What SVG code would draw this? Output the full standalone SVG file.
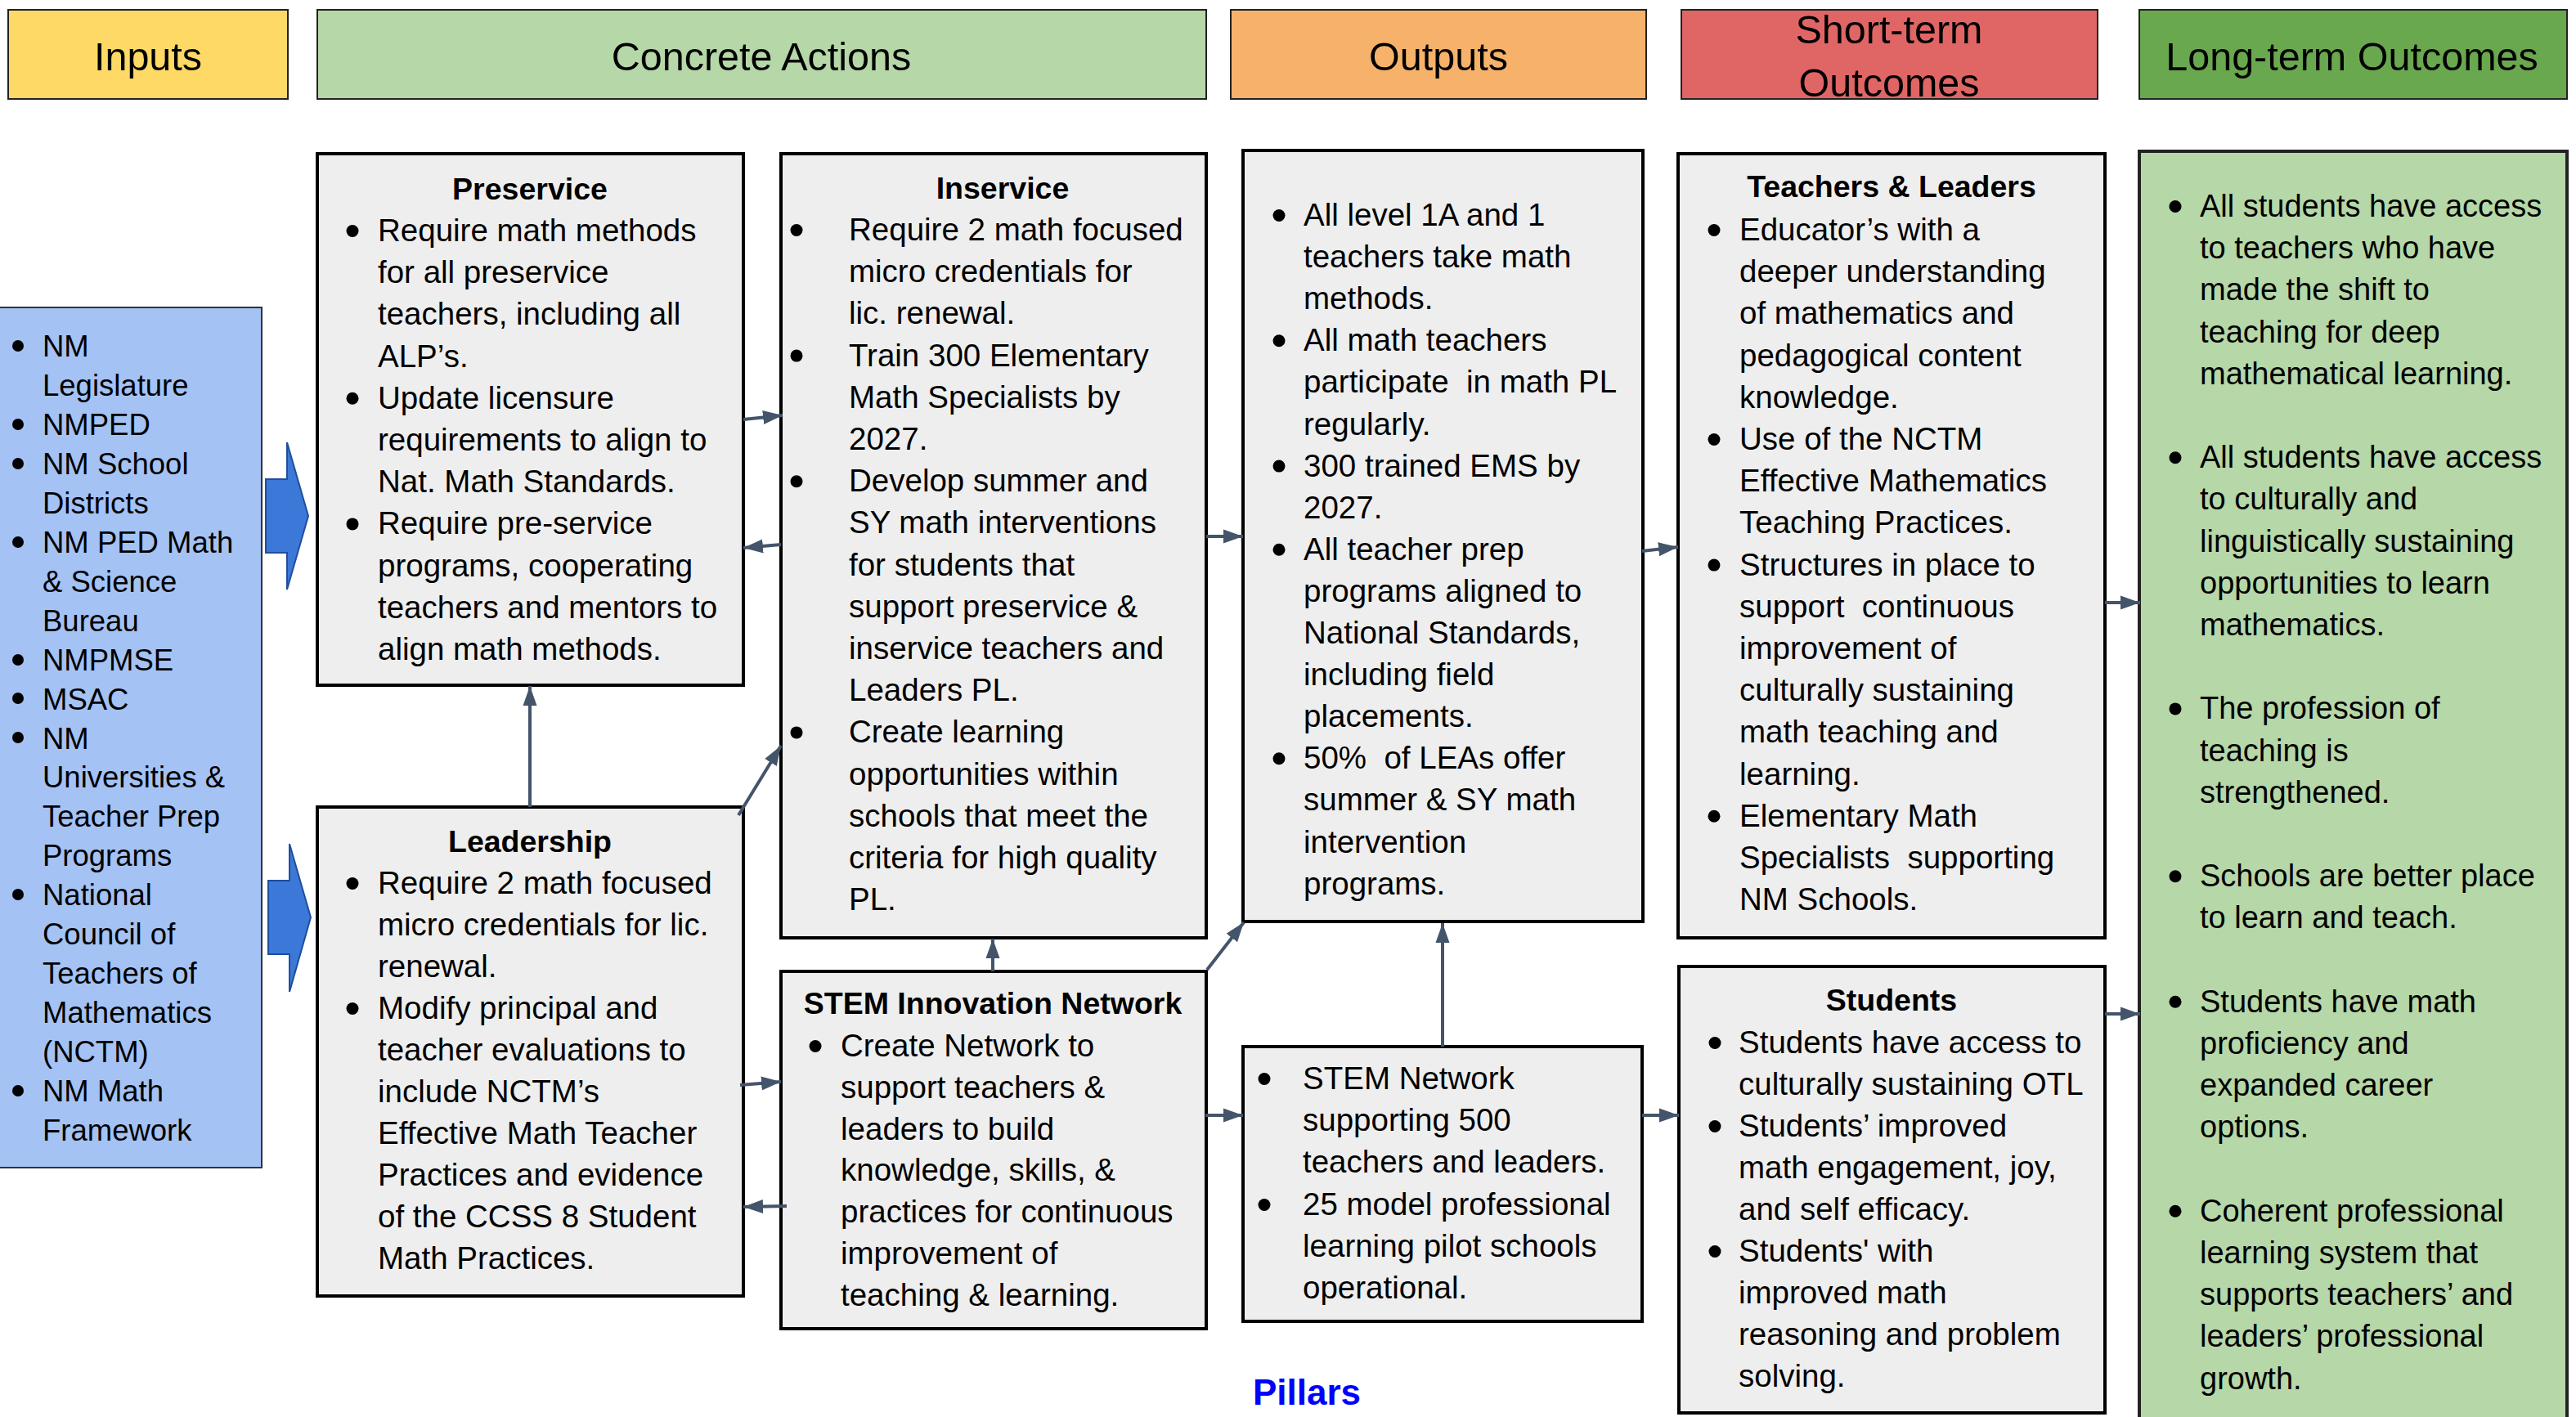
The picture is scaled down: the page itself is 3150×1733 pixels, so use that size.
<svg xmlns="http://www.w3.org/2000/svg" width="3150" height="1733" viewBox="0 0 3150 1733">
<style>
.hb{stroke:#222;stroke-width:2}
.ht{font-family:"Liberation Sans",Arial,sans-serif;font-size:48.5px;fill:#000;text-anchor:middle}
.box{fill:#EEEEEE;stroke:#000;stroke-width:4}
.t{font-family:"Liberation Sans",Arial,sans-serif;font-size:38.5px;fill:#000;white-space:pre}
.ti{font-family:"Liberation Sans",Arial,sans-serif;font-size:36.5px;fill:#000;white-space:pre}
.tl{font-family:"Liberation Sans",Arial,sans-serif;font-size:38px;fill:#000;white-space:pre}
.ttl{font-family:"Liberation Sans",Arial,sans-serif;font-size:37.5px;font-weight:bold;fill:#000;text-anchor:middle}
.b{fill:#000}
.blk{fill:#3C78D8;stroke:#1F4E9C;stroke-width:2}
.c{stroke:#44546A;stroke-width:4;fill:none;marker-end:url(#ah)}
</style>
<defs>
<marker id="ah" markerUnits="userSpaceOnUse" markerWidth="26" markerHeight="20" refX="24" refY="10" orient="auto">
<path d="M0,1.5 L24,10 L0,18.5 Z" fill="#44546A"/>
</marker>
</defs>
<rect width="3150" height="1733" fill="#FFFFFF"/>

<g id="headers">
<g id="hdr-inputs"><rect class="hb" x="10" y="12" width="342" height="109" fill="#FFD966"/><text class="ht" x="181" y="86">Inputs</text></g>
<g id="hdr-actions"><rect class="hb" x="388" y="12" width="1087" height="109" fill="#B6D7A8"/><text class="ht" x="931" y="86">Concrete Actions</text></g>
<g id="hdr-outputs"><rect class="hb" x="1505" y="12" width="508" height="109" fill="#F6B26B"/><text class="ht" x="1759" y="86">Outputs</text></g>
<g id="hdr-short"><rect class="hb" x="2056" y="12" width="509" height="109" fill="#E06666"/><text class="ht" x="2310" y="53">Short-term</text><text class="ht" x="2310" y="118">Outcomes</text></g>
<g id="hdr-long"><rect class="hb" x="2616" y="12" width="523" height="109" fill="#6AA84F"/><text class="ht" x="2876" y="86">Long-term Outcomes</text></g>
</g>

<g id="inputs">
<rect x="-2" y="376" width="322" height="1052" fill="#A4C2F4" stroke="#333" stroke-width="2"/>
<g class="b">
<circle cx="22" cy="423" r="7"/><circle cx="22" cy="519" r="7"/><circle cx="22" cy="567" r="7"/><circle cx="22" cy="663" r="7"/><circle cx="22" cy="807" r="7"/><circle cx="22" cy="854" r="7"/><circle cx="22" cy="902" r="7"/><circle cx="22" cy="1094" r="7"/><circle cx="22" cy="1334" r="7"/>
</g>
<text class="ti">
<tspan x="52" y="436">NM</tspan><tspan x="52" y="484">Legislature</tspan><tspan x="52" y="532">NMPED</tspan><tspan x="52" y="580">NM School</tspan><tspan x="52" y="628">Districts</tspan><tspan x="52" y="676">NM PED Math</tspan><tspan x="52" y="724">&amp; Science</tspan><tspan x="52" y="772">Bureau</tspan><tspan x="52" y="820">NMPMSE</tspan><tspan x="52" y="868">MSAC</tspan><tspan x="52" y="916">NM</tspan><tspan x="52" y="963">Universities &amp;</tspan><tspan x="52" y="1011">Teacher Prep</tspan><tspan x="52" y="1059">Programs</tspan><tspan x="52" y="1107">National</tspan><tspan x="52" y="1155">Council of</tspan><tspan x="52" y="1203">Teachers of</tspan><tspan x="52" y="1251">Mathematics</tspan><tspan x="52" y="1299">(NCTM)</tspan><tspan x="52" y="1347">NM Math</tspan><tspan x="52" y="1395">Framework</tspan>
</text>
</g>

<g id="block-arrows">
<polygon class="blk" points="325,586 351,586 351,541 377,631 351,721 351,676 325,676"/>
<polygon class="blk" points="328,1077 354,1077 354,1032 380,1122 354,1213 354,1167 328,1167"/>
</g>

<g id="preservice">
<rect class="box" x="388" y="188" width="521" height="650"/>
<text class="ttl" x="648" y="244">Preservice</text>
<g class="b"><circle cx="431" cy="282.5" r="7.5"/><circle cx="431" cy="487.3" r="7.5"/><circle cx="431" cy="640.9" r="7.5"/></g>
<text class="t">
<tspan x="462" y="295">Require math methods</tspan><tspan x="462" y="346.2">for all preservice</tspan><tspan x="462" y="397.4">teachers, including all</tspan><tspan x="462" y="448.6">ALP’s.</tspan><tspan x="462" y="499.8">Update licensure</tspan><tspan x="462" y="551">requirements to align to</tspan><tspan x="462" y="602.2">Nat. Math Standards.</tspan><tspan x="462" y="653.4">Require pre-service</tspan><tspan x="462" y="704.6">programs, cooperating</tspan><tspan x="462" y="755.8">teachers and mentors to</tspan><tspan x="462" y="807">align math methods.</tspan>
</text>
</g>

<g id="inservice">
<rect class="box" x="955" y="188" width="520" height="959"/>
<text class="ttl" x="1226" y="243">Inservice</text>
<g class="b"><circle cx="974" cy="281.5" r="7.5"/><circle cx="974" cy="435.1" r="7.5"/><circle cx="974" cy="588.7" r="7.5"/><circle cx="974" cy="895.9" r="7.5"/></g>
<text class="t">
<tspan x="1038" y="294">Require 2 math focused</tspan><tspan x="1038" y="345.2">micro credentials for</tspan><tspan x="1038" y="396.4">lic. renewal.</tspan><tspan x="1038" y="447.6">Train 300 Elementary</tspan><tspan x="1038" y="498.8">Math Specialists by</tspan><tspan x="1038" y="550">2027.</tspan><tspan x="1038" y="601.2">Develop summer and</tspan><tspan x="1038" y="652.4">SY math interventions</tspan><tspan x="1038" y="703.6">for students that</tspan><tspan x="1038" y="754.8">support preservice &amp;</tspan><tspan x="1038" y="806">inservice teachers and</tspan><tspan x="1038" y="857.2">Leaders PL.</tspan><tspan x="1038" y="908.4">Create learning</tspan><tspan x="1038" y="959.6">opportunities within</tspan><tspan x="1038" y="1010.8">schools that meet the</tspan><tspan x="1038" y="1062">criteria for high quality</tspan><tspan x="1038" y="1113.2">PL.</tspan>
</text>
</g>

<g id="leadership">
<rect class="box" x="388" y="987" width="521" height="598"/>
<text class="ttl" x="648" y="1042">Leadership</text>
<g class="b"><circle cx="431" cy="1080.5" r="7.5"/><circle cx="431" cy="1233.5" r="7.5"/></g>
<text class="t">
<tspan x="462" y="1093">Require 2 math focused</tspan><tspan x="462" y="1144">micro credentials for lic.</tspan><tspan x="462" y="1195">renewal.</tspan><tspan x="462" y="1246">Modify principal and</tspan><tspan x="462" y="1297">teacher evaluations to</tspan><tspan x="462" y="1348">include NCTM’s</tspan><tspan x="462" y="1399">Effective Math Teacher</tspan><tspan x="462" y="1450">Practices and evidence</tspan><tspan x="462" y="1501">of the CCSS 8 Student</tspan><tspan x="462" y="1552">Math Practices.</tspan>
</text>
</g>

<g id="stem-innovation">
<rect class="box" x="955" y="1188" width="520" height="437"/>
<text class="ttl" x="1214" y="1240">STEM Innovation Network</text>
<g class="b"><circle cx="997" cy="1279.5" r="7.5"/></g>
<text class="t">
<tspan x="1028" y="1292">Create Network to</tspan><tspan x="1028" y="1343">support teachers &amp;</tspan><tspan x="1028" y="1394">leaders to build</tspan><tspan x="1028" y="1444">knowledge, skills, &amp;</tspan><tspan x="1028" y="1495">practices for continuous</tspan><tspan x="1028" y="1546">improvement of</tspan><tspan x="1028" y="1597">teaching &amp; learning.</tspan>
</text>
</g>

<g id="outputs">
<rect class="box" x="1520" y="184" width="489" height="943"/>
<g class="b"><circle cx="1564" cy="263.5" r="7.5"/><circle cx="1564" cy="416.8" r="7.5"/><circle cx="1564" cy="570.1" r="7.5"/><circle cx="1564" cy="672.3" r="7.5"/><circle cx="1564" cy="927.8" r="7.5"/></g>
<text class="t">
<tspan x="1594" y="276">All level 1A and 1</tspan><tspan x="1594" y="327.1">teachers take math</tspan><tspan x="1594" y="378.2">methods.</tspan><tspan x="1594" y="429.3">All math teachers</tspan><tspan x="1594" y="480.4">participate  in math PL</tspan><tspan x="1594" y="531.5">regularly.</tspan><tspan x="1594" y="582.6">300 trained EMS by</tspan><tspan x="1594" y="633.7">2027.</tspan><tspan x="1594" y="684.8">All teacher prep</tspan><tspan x="1594" y="735.9">programs aligned to</tspan><tspan x="1594" y="787">National Standards,</tspan><tspan x="1594" y="838.1">including field</tspan><tspan x="1594" y="889.2">placements.</tspan><tspan x="1594" y="940.3">50%  of LEAs offer</tspan><tspan x="1594" y="991.4">summer &amp; SY math</tspan><tspan x="1594" y="1042.5">intervention</tspan><tspan x="1594" y="1093.6">programs.</tspan>
</text>
</g>

<g id="stem-network">
<rect class="box" x="1520" y="1280" width="488" height="336"/>
<g class="b"><circle cx="1546" cy="1319.5" r="7.5"/><circle cx="1546" cy="1473.5" r="7.5"/></g>
<text class="t">
<tspan x="1593" y="1332">STEM Network</tspan><tspan x="1593" y="1383">supporting 500</tspan><tspan x="1593" y="1434">teachers and leaders.</tspan><tspan x="1593" y="1486">25 model professional</tspan><tspan x="1593" y="1537">learning pilot schools</tspan><tspan x="1593" y="1588">operational.</tspan>
</text>
</g>

<g id="teachers-leaders">
<rect class="box" x="2052" y="188" width="522" height="959"/>
<text class="ttl" x="2313" y="241">Teachers &amp; Leaders</text>
<g class="b"><circle cx="2096" cy="281.5" r="7.5"/><circle cx="2096" cy="537.5" r="7.5"/><circle cx="2096" cy="691.1" r="7.5"/><circle cx="2096" cy="998.3" r="7.5"/></g>
<text class="t">
<tspan x="2127" y="294">Educator’s with a</tspan><tspan x="2127" y="345.2">deeper understanding</tspan><tspan x="2127" y="396.4">of mathematics and</tspan><tspan x="2127" y="447.6">pedagogical content</tspan><tspan x="2127" y="498.8">knowledge.</tspan><tspan x="2127" y="550">Use of the NCTM</tspan><tspan x="2127" y="601.2">Effective Mathematics</tspan><tspan x="2127" y="652.4">Teaching Practices.</tspan><tspan x="2127" y="703.6">Structures in place to</tspan><tspan x="2127" y="754.8">support  continuous</tspan><tspan x="2127" y="806">improvement of</tspan><tspan x="2127" y="857.2">culturally sustaining</tspan><tspan x="2127" y="908.4">math teaching and</tspan><tspan x="2127" y="959.6">learning.</tspan><tspan x="2127" y="1010.8">Elementary Math</tspan><tspan x="2127" y="1062">Specialists  supporting</tspan><tspan x="2127" y="1113.2">NM Schools.</tspan>
</text>
</g>

<g id="students">
<rect class="box" x="2053" y="1182" width="521" height="546"/>
<text class="ttl" x="2313" y="1236">Students</text>
<g class="b"><circle cx="2097" cy="1275.5" r="7.5"/><circle cx="2097" cy="1377.5" r="7.5"/><circle cx="2097" cy="1530.5" r="7.5"/></g>
<text class="t">
<tspan x="2126" y="1288">Students have access to</tspan><tspan x="2126" y="1339">culturally sustaining OTL</tspan><tspan x="2126" y="1390">Students’ improved</tspan><tspan x="2126" y="1441">math engagement, joy,</tspan><tspan x="2126" y="1492">and self efficacy.</tspan><tspan x="2126" y="1543">Students' with</tspan><tspan x="2126" y="1594">improved math</tspan><tspan x="2126" y="1645">reasoning and problem</tspan><tspan x="2126" y="1696">solving.</tspan>
</text>
</g>

<g id="long-term">
<rect x="2616" y="185" width="523" height="1560" fill="#B6D7A8" stroke="#222" stroke-width="4"/>
<g class="b"><circle cx="2660" cy="252.5" r="7.5"/><circle cx="2660" cy="559.7" r="7.5"/><circle cx="2660" cy="866.9" r="7.5"/><circle cx="2660" cy="1071.7" r="7.5"/><circle cx="2660" cy="1225.3" r="7.5"/><circle cx="2660" cy="1481.3" r="7.5"/></g>
<text class="tl">
<tspan x="2690" y="265">All students have access</tspan><tspan x="2690" y="316.2">to teachers who have</tspan><tspan x="2690" y="367.4">made the shift to</tspan><tspan x="2690" y="418.6">teaching for deep</tspan><tspan x="2690" y="469.8">mathematical learning.</tspan><tspan x="2690" y="572.2">All students have access</tspan><tspan x="2690" y="623.4">to culturally and</tspan><tspan x="2690" y="674.6">linguistically sustaining</tspan><tspan x="2690" y="725.8">opportunities to learn</tspan><tspan x="2690" y="777">mathematics.</tspan><tspan x="2690" y="879.4">The profession of</tspan><tspan x="2690" y="930.6">teaching is</tspan><tspan x="2690" y="981.8">strengthened.</tspan><tspan x="2690" y="1084.2">Schools are better place</tspan><tspan x="2690" y="1135.4">to learn and teach.</tspan><tspan x="2690" y="1237.8">Students have math</tspan><tspan x="2690" y="1289">proficiency and</tspan><tspan x="2690" y="1340.2">expanded career</tspan><tspan x="2690" y="1391.4">options.</tspan><tspan x="2690" y="1493.8">Coherent professional</tspan><tspan x="2690" y="1545">learning system that</tspan><tspan x="2690" y="1596.2">supports teachers’ and</tspan><tspan x="2690" y="1647.4">leaders’ professional</tspan><tspan x="2690" y="1698.6">growth.</tspan>
</text>
</g>

<g id="pillars-label">
<text x="1532" y="1718" font-family="Liberation Sans, Arial, sans-serif" font-size="44" font-weight="bold" fill="#0000FF">Pillars</text>
</g>

<g id="connectors">
<path class="c" d="M909,513 L957,508"/>
<path class="c" d="M955,666 L909,670"/>
<path class="c" d="M648,987 L648,839"/>
<path class="c" d="M903,997 L955,912"/>
<path class="c" d="M1475,656 L1520,656"/>
<path class="c" d="M905,1327 L955,1323"/>
<path class="c" d="M962,1475 L909,1476"/>
<path class="c" d="M1214,1188 L1214,1148"/>
<path class="c" d="M1476,1186 L1521,1128"/>
<path class="c" d="M1474,1364 L1520,1364"/>
<path class="c" d="M1764,1280 L1764,1129"/>
<path class="c" d="M2008,674 L2052,669"/>
<path class="c" d="M2008,1364 L2053,1364"/>
<path class="c" d="M2574,737 L2617,737"/>
<path class="c" d="M2574,1240 L2617,1240"/>
</g>
</svg>
